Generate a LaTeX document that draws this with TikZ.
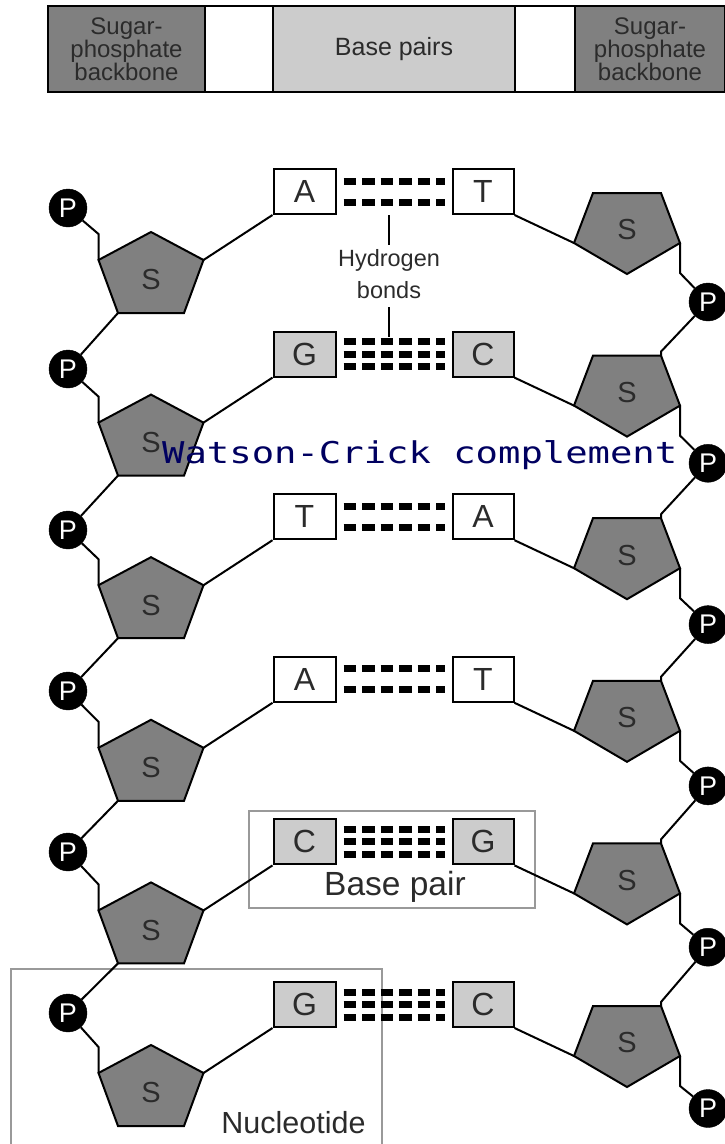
\documentclass[tikz,border=0pt]{standalone}
\usepackage{fontspec}
\setmainfont{Liberation Sans}
\newfontfamily\wcfont{DejaVu Sans Mono}[FakeStretch=1.24]
\usetikzlibrary{calc}
\definecolor{sugar}{HTML}{808080}
\definecolor{basefill}{HTML}{CCCCCC}
\definecolor{labelgray}{HTML}{2B2B2B}
\definecolor{framegray}{HTML}{999999}
\definecolor{wcblue}{RGB}{0,0,96}

\begin{document}
\begin{tikzpicture}[x=1pt,y=-1pt,
  pcirc/.style={circle, fill=black, draw=black, minimum size=38pt, inner sep=0pt,
    text=white, font=\fontsize{27}{27}\selectfont},
  sugarpoly/.style={fill=sugar, draw=black, line width=2pt, line join=miter},
  sugarlbl/.style={text=labelgray, font=\fontsize{29}{29}\selectfont, inner sep=0pt},
  basebox/.style={draw=black, line width=2pt, minimum height=45pt, inner sep=0pt,
    text=labelgray, font=\fontsize{32}{32}\selectfont},
  link/.style={line width=2pt},
  hbond/.style={line width=7pt, dash pattern=on 12.5pt off 6pt},
  frame/.style={draw=framegray, line width=2.5pt},
  barbox/.style={draw=black, line width=1.8pt, minimum height=86pt, inner sep=0pt,
    text=labelgray, align=center},
  lbl/.style={text=labelgray, inner sep=0pt, align=center}
]
\useasboundingbox (0,0) rectangle (724,1144);

% legend bar across the top
\node[barbox, fill=sugar, minimum width=157pt, font=\fontsize{24}{23}\selectfont]
  (barL) at (126.5,49) {Sugar-\\phosphate\\backbone};
\node[barbox, fill=white, minimum width=68pt] (gapL) at (239,49) {};
\node[barbox, fill=basefill, minimum width=242pt, font=\fontsize{25}{25}\selectfont]
  (barM) at (394,49) {Base pairs};
\node[barbox, fill=white, minimum width=60pt] (gapR) at (545,49) {};
\node[barbox, fill=sugar, minimum width=150pt, font=\fontsize{24}{23}\selectfont]
  (barR) at (650,49) {Sugar-\\phosphate\\backbone};

% annotation frames
\draw[frame] (249,811) rectangle (535,908);
\draw[frame] (11,969) rectangle (382,1170);

% one rung of the ladder per row
\foreach \k/\lb/\rb/\fillc/\bonds in {
    0/A/T/white/{-10.5,10.5},
    1/G/C/basefill/{-12.5,0,12.5},
    2/T/A/white/{-10.5,10.5},
    3/A/T/white/{-10.5,10.5},
    4/C/G/basefill/{-12.5,0,12.5},
    5/G/C/basefill/{-12.5,0,12.5}}{
  \pgfmathsetmacro\yo{162.6*\k}
  \pgfmathsetmacro\lpy{208+161*\k}
  \pgfmathsetmacro\rpy{302+161.3*\k}
  % left sugar (point up)
  \coordinate (LT\k)  at (151,{232+\yo});
  \coordinate (LUR\k) at (203.5,{260+\yo});
  \coordinate (LBR\k) at (184,{313+\yo});
  \coordinate (LBL\k) at (118,{313+\yo});
  \coordinate (LUL\k) at (98.5,{260+\yo});
  \coordinate (LJ\k)  at (98.5,{234+\yo});
  % right sugar (point down)
  \coordinate (RTL\k) at (593,{193+\yo});
  \coordinate (RTR\k) at (661,{193+\yo});
  \coordinate (RR\k)  at (680,{243+\yo});
  \coordinate (RB\k)  at (627,{274+\yo});
  \coordinate (RL\k)  at (574,{243+\yo});
  \coordinate (RJ\k)  at (680,{273+\yo});
  \coordinate (RK\k)  at (661,{189+\yo});
  % phosphates
  \node[pcirc] (LP\k) at (68,\lpy) {P};
  \node[pcirc] (RP\k) at (708,\rpy) {P};
  % bases
  \node[basebox, fill=\fillc, minimum width=62pt] (LB\k) at (304.5,{191.5+\yo}) {\lb};
  \node[basebox, fill=\fillc, minimum width=61pt] (RBx\k) at (483,{191.5+\yo}) {\rb};
  % links within the row
  \draw[link] (LP\k) -- (LJ\k) -- (LUL\k);
  \draw[link] (LUR\k) -- (LB\k.south west);
  \draw[link] (RBx\k.south east) -- (RL\k);
  \draw[link] (RR\k) -- (RJ\k) -- (RP\k);
  % sugars
  \draw[sugarpoly] (LT\k) -- (LUR\k) -- (LBR\k) -- (LBL\k) -- (LUL\k) -- cycle;
  \node[sugarlbl] (LS\k) at (151,{280+\yo}) {S};
  \draw[sugarpoly] (RTL\k) -- (RTR\k) -- (RR\k) -- (RB\k) -- (RL\k) -- cycle;
  \node[sugarlbl] (RS\k) at (627,{230+\yo}) {S};
  % hydrogen bonds
  \foreach \dy in \bonds {
    \draw[hbond] ($(LB\k.east)+(7,\dy)$) -- ($(RBx\k.west)+(-7,\dy)$);
  }
}

% backbone links between rows
\foreach \k in {0,...,4}{
  \pgfmathtruncatemacro\kn{\k+1}
  \draw[link] (LBL\k) -- (LP\kn);
  \draw[link] (RP\k) -- (RK\kn) -- (RTR\kn);
}

% hydrogen bond callout
\node[lbl, font=\fontsize{23.5}{31.6}\selectfont] (hb) at (389,274) {Hydrogen\\bonds};
\coordinate (hbA) at (389,215);
\coordinate (hbB) at (389,245);
\coordinate (hbC) at (389,307);
\coordinate (hbD) at (389,337);
\draw[link] (hbA) -- (hbB);
\draw[link] (hbC) -- (hbD);

% frame captions
\node[lbl, anchor=base, font=\fontsize{33.5}{33.5}\selectfont] (bp) at (395,895) {Base pair};
\node[lbl, anchor=base, font=\fontsize{30.5}{30.5}\selectfont] (nt) at (293.5,1133.5) {Nucleotide};

% overlaid caption
\node[anchor=base west, inner sep=0pt, text=wcblue, font=\wcfont\fontsize{30}{30}\selectfont]
  (wc) at (162,463) {Watson-Crick complement};
\end{tikzpicture}
\end{document}
